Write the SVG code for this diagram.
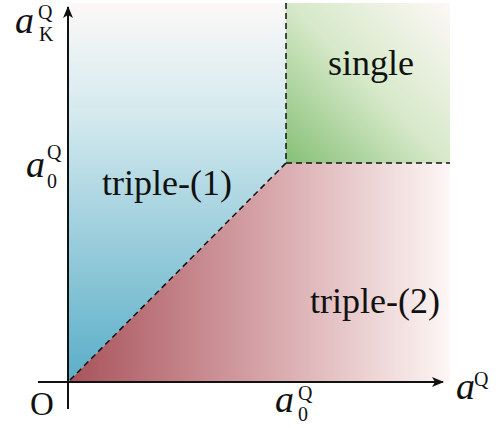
<svg xmlns="http://www.w3.org/2000/svg" width="504" height="428" viewBox="0 0 504 428">
<style>
.lbl{font-family:"Liberation Serif","Times New Roman",serif;fill:#111;}
.reg{font-size:36px;}
.it{font-style:italic;font-size:38px;}
.sm{font-size:20px;}
.dash{stroke:#111;stroke-width:1.5;stroke-dasharray:6 4;fill:none;}
.axis{stroke:#111;stroke-width:2;fill:none;}
</style>
<defs>
<linearGradient id="gBlue" x1="0" y1="3" x2="0" y2="382" gradientUnits="userSpaceOnUse">
<stop offset="0" stop-color="#fcf8f7"/>
<stop offset="0.3" stop-color="#d3e9ee"/>
<stop offset="1" stop-color="#5aaec8"/>
</linearGradient>
<linearGradient id="gRed" x1="68" y1="0" x2="450" y2="0" gradientUnits="userSpaceOnUse">
<stop offset="0" stop-color="#a8525a"/>
<stop offset="0.55" stop-color="#d9aaae"/>
<stop offset="1" stop-color="#fdf7f5"/>
</linearGradient>
<linearGradient id="gGreen" x1="286" y1="163" x2="450" y2="3" gradientUnits="userSpaceOnUse">
<stop offset="0" stop-color="#86c076"/>
<stop offset="0.5" stop-color="#d6e9c9"/>
<stop offset="1" stop-color="#fdf8f6"/>
</linearGradient>
<marker id="arr" markerWidth="12" markerHeight="10" refX="11" refY="5" orient="auto" markerUnits="userSpaceOnUse">
<path d="M0,0 L12,5 L0,10 L3,5 Z" fill="#111"/>
</marker>
</defs>
<g id="regions">
<g id="triple1"><polygon points="68,3 286,3 286,163 68,382" fill="url(#gBlue)"/></g>
<g id="single"><rect x="286" y="3" width="164" height="160" fill="url(#gGreen)"/></g>
<g id="triple2"><polygon points="68,382 286,163 450,163 450,382" fill="url(#gRed)"/></g>
</g>
<g id="connectors">
<line class="dash" x1="286" y1="3" x2="286" y2="163"/>
<line class="dash" x1="286" y1="163" x2="450" y2="163"/>
<line class="dash" x1="70" y1="380" x2="286" y2="163"/>
<line class="axis" x1="68" y1="409" x2="68" y2="7" marker-end="url(#arr)"/>
<line class="axis" x1="38" y1="382" x2="443" y2="382" marker-end="url(#arr)"/>
</g>
<g id="labels">
<text class="lbl reg" x="102" y="195">triple-(1)</text>
<text class="lbl reg" x="328" y="75">single</text>
<text class="lbl reg" x="310" y="313">triple-(2)</text>
<text class="lbl" x="30" y="415" font-size="33">O</text>
<g id="aK"><text class="lbl it" x="15" y="33">a</text><text class="lbl sm" x="38" y="19">Q</text><text class="lbl sm" x="39" y="41">K</text></g>
<g id="a0y"><text class="lbl it" x="26" y="177">a</text><text class="lbl sm" x="47" y="159">Q</text><text class="lbl sm" x="47" y="188">0</text></g>
<g id="a0x"><text class="lbl it" x="275" y="412">a</text><text class="lbl sm" x="298" y="400">Q</text><text class="lbl sm" x="298" y="421">0</text></g>
<g id="aQ"><text class="lbl it" x="456" y="399">a</text><text class="lbl sm" x="474" y="386">Q</text></g>
</g>
</svg>
